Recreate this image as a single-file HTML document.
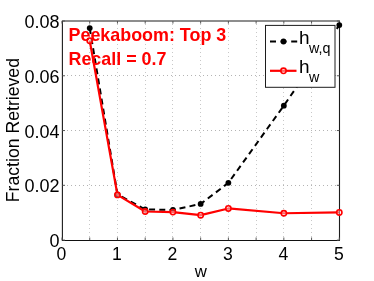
<!DOCTYPE html><html><head><meta charset="utf-8"><style>html,body{margin:0;padding:0;background:#fff;overflow:hidden}svg{display:block;will-change:transform}text{font-family:"Liberation Sans",sans-serif}</style></head><body>
<svg width="374" height="281" viewBox="0 0 374 281">
<rect width="374" height="281" fill="#fff"/>
<path d="M89.50 24V240.1M117.50 24V240.1M145.50 24V240.1M172.50 24V240.1M200.50 24V240.1M228.50 24V240.1M256.50 24V240.1M283.50 24V240.1M311.50 24V240.1" stroke="#c8c8c8" stroke-width="1" stroke-dasharray="1 3" fill="none"/>
<path d="M67 185.50H339.5M67 130.50H339.5M67 75.50H339.5" stroke="#b4b4b4" stroke-width="1" stroke-dasharray="1 3" fill="none"/>
<path d="M62.4 240.5V21.0H339.5V240.5" fill="none" stroke="#1c1c1c" stroke-width="1.1"/><path d="M61.9 240.5H340.0" fill="none" stroke="#111" stroke-width="1.1"/>
<path d="M62.00 240.1v-2.6M62.00 21.0v2.6M89.73 240.1v-2.6M89.73 21.0v2.6M117.46 240.1v-2.6M117.46 21.0v2.6M145.19 240.1v-2.6M145.19 21.0v2.6M172.92 240.1v-2.6M172.92 21.0v2.6M200.65 240.1v-2.6M200.65 21.0v2.6M228.38 240.1v-2.6M228.38 21.0v2.6M256.11 240.1v-2.6M256.11 21.0v2.6M283.84 240.1v-2.6M283.84 21.0v2.6M311.57 240.1v-2.6M311.57 21.0v2.6M339.30 240.1v-2.6M339.30 21.0v2.6M62.4 240.10h2.6M339.5 240.10h-2.6M62.4 185.32h2.6M339.5 185.32h-2.6M62.4 130.55h2.6M339.5 130.55h-2.6M62.4 75.78h2.6M339.5 75.78h-2.6M62.4 21.00h2.6M339.5 21.00h-2.6" stroke="#555" stroke-width="1" fill="none"/>
<polyline points="89.73,28.12 117.46,194.36 145.19,209.43 172.92,209.97 200.65,203.95 228.38,182.86 283.84,105.63 339.30,25.11" fill="none" stroke="#000" stroke-width="2" stroke-dasharray="6 4.2"/>
<circle cx="89.73" cy="28.12" r="2.9" fill="#000"/>
<circle cx="117.46" cy="194.36" r="2.9" fill="#000"/>
<circle cx="145.19" cy="209.43" r="2.9" fill="#000"/>
<circle cx="172.92" cy="209.97" r="2.9" fill="#000"/>
<circle cx="200.65" cy="203.95" r="2.9" fill="#000"/>
<circle cx="228.38" cy="182.86" r="2.9" fill="#000"/>
<circle cx="283.84" cy="105.63" r="2.9" fill="#000"/>
<circle cx="339.30" cy="25.11" r="2.9" fill="#000"/>
<polyline points="89.73,40.72 117.46,194.91 145.19,211.48 172.92,212.08 200.65,215.18 228.38,208.47 283.84,213.26 339.30,212.44" fill="none" stroke="#f00" stroke-width="2.2" stroke-linejoin="round"/>
<circle cx="89.73" cy="40.72" r="2.65" fill="#fff" fill-opacity=".4" stroke="#f00" stroke-width="1.6"/>
<circle cx="117.46" cy="194.91" r="2.65" fill="#fff" fill-opacity=".4" stroke="#f00" stroke-width="1.6"/>
<circle cx="145.19" cy="211.48" r="2.65" fill="#fff" fill-opacity=".4" stroke="#f00" stroke-width="1.6"/>
<circle cx="172.92" cy="212.08" r="2.65" fill="#fff" fill-opacity=".4" stroke="#f00" stroke-width="1.6"/>
<circle cx="200.65" cy="215.18" r="2.65" fill="#fff" fill-opacity=".4" stroke="#f00" stroke-width="1.6"/>
<circle cx="228.38" cy="208.47" r="2.65" fill="#fff" fill-opacity=".4" stroke="#f00" stroke-width="1.6"/>
<circle cx="283.84" cy="213.26" r="2.65" fill="#fff" fill-opacity=".4" stroke="#f00" stroke-width="1.6"/>
<circle cx="339.30" cy="212.44" r="2.65" fill="#fff" fill-opacity=".4" stroke="#f00" stroke-width="1.6"/>
<rect x="265.5" y="25.4" width="69.5" height="61.9" fill="#fff" stroke="#1c1c1c" stroke-width="1"/>
<path d="M270 41.5h27.5" stroke="#000" stroke-width="2" stroke-dasharray="6 4.6"/><circle cx="283.5" cy="41.5" r="2.9" fill="#000"/>
<path d="M270 70.8h26.5" stroke="#f00" stroke-width="2.2"/><circle cx="283.5" cy="70.8" r="2.65" fill="#fff" fill-opacity=".4" stroke="#f00" stroke-width="1.6"/>
<text x="299" y="44" font-size="19">h</text><text x="309" y="52.6" font-size="14.3">w,q</text>
<text x="299" y="73" font-size="19">h</text><text x="309" y="82" font-size="14.3">w</text>
<text x="68.5" y="41.3" font-size="17.9" font-weight="bold" fill="#f00">Peekaboom: Top 3</text>
<text x="68.5" y="64.5" font-size="17.9" font-weight="bold" fill="#f00">Recall = 0.7</text>
<text x="59.6" y="247.10" font-size="18" text-anchor="end">0</text>
<text x="59.6" y="192.32" font-size="18" text-anchor="end">0.02</text>
<text x="59.6" y="137.55" font-size="18" text-anchor="end">0.04</text>
<text x="59.6" y="82.78" font-size="18" text-anchor="end">0.06</text>
<text x="59.6" y="28.00" font-size="18" text-anchor="end">0.08</text>
<text x="61.50" y="259.9" font-size="17.6" text-anchor="middle">0</text>
<text x="116.96" y="259.9" font-size="17.6" text-anchor="middle">1</text>
<text x="172.42" y="259.9" font-size="17.6" text-anchor="middle">2</text>
<text x="227.88" y="259.9" font-size="17.6" text-anchor="middle">3</text>
<text x="283.34" y="259.9" font-size="17.6" text-anchor="middle">4</text>
<text x="338.80" y="259.9" font-size="17.6" text-anchor="middle">5</text>
<text x="200.7" y="276.6" font-size="16.8" text-anchor="middle">w</text>
<text transform="translate(19.2,130.1) rotate(-90)" font-size="17.65" text-anchor="middle">Fraction Retrieved</text>
</svg></body></html>
